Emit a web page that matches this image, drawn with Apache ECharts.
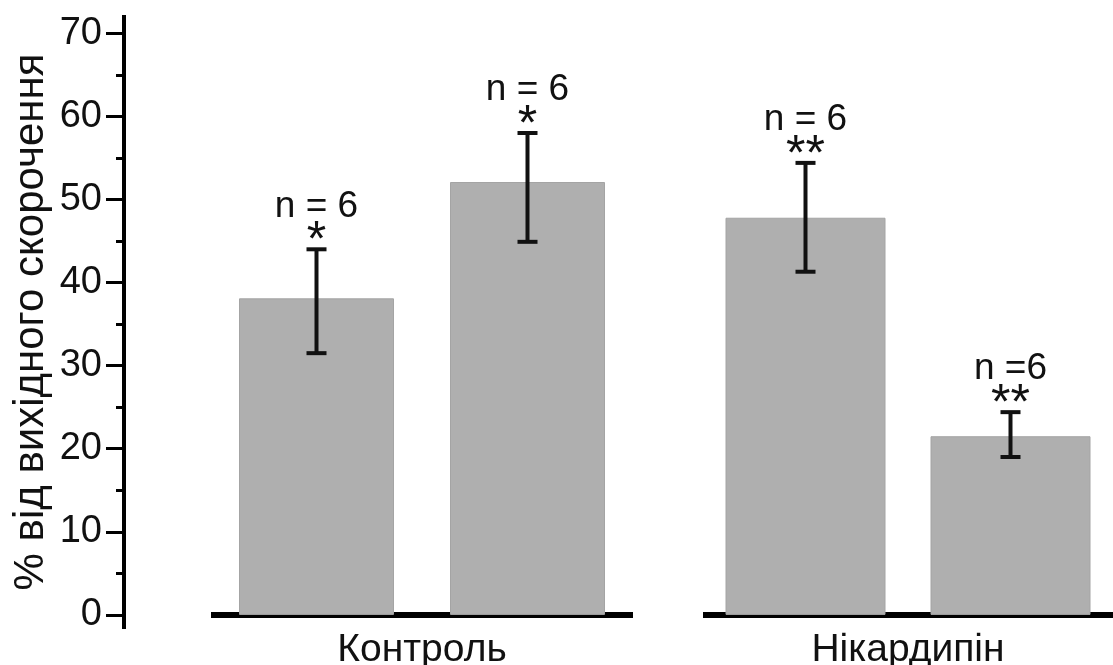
<!DOCTYPE html>
<html>
<head>
<meta charset="utf-8">
<script src="https://cdn.jsdelivr.net/npm/echarts@6/dist/echarts.min.js"></script>
<style>
html,body{margin:0;padding:0;background:#fff;}
#c{width:1113px;height:665px;}
</style>
</head>
<body>
<div id="c"></div>
<script>
// ---- data ----
const groupNames = ['Контроль', 'Нікардипін'];
const barCats = [['1', '2'], ['1', '2']];
const barValues = [[38.1, 52.1], [47.8, 21.5]];
const errLow = [[31.5, 44.9], [41.3, 19.0]];
const errHigh = [[44.0, 58.0], [54.4, 24.4]];
const nLabels = [['n = 6', 'n = 6'], ['n = 6', 'n =6']];
const sigLabels = [['*', '*'], ['**', '**']];
const yAxisName = '% від вихідного скорочення';
const yMajorTicks = [0, 10, 20, 30, 40, 50, 60, 70];
const yMinorTicks = [5, 15, 25, 35, 45, 55, 65];
const yMin = -1.7, yMax = 72.2;

// ---- chart ----
const FONT = 'Liberation Sans, Arial, sans-serif';
const chart = echarts.init(document.getElementById('c'));

function makeErrRender(g) {
  return function (params, api) {
    const x = api.value(0);
    const lo = api.coord([x, api.value(1)]);
    const hi = api.coord([x, api.value(2)]);
    const cap = 10;
    const i = params.dataIndex;
    const st = { stroke: '#111', lineWidth: 4 };
    return {
      type: 'group',
      children: [
        { type: 'line', shape: { x1: lo[0], y1: lo[1], x2: hi[0], y2: hi[1] }, style: st },
        { type: 'line', shape: { x1: lo[0] - cap, y1: lo[1], x2: lo[0] + cap, y2: lo[1] }, style: st },
        { type: 'line', shape: { x1: hi[0] - cap, y1: hi[1], x2: hi[0] + cap, y2: hi[1] }, style: st },
        { type: 'text', x: hi[0], y: hi[1] - 7,
          style: { text: sigLabels[g][i], fill: '#111', font: '50px ' + FONT, align: 'center', verticalAlign: 'middle' } },
        { type: 'text', x: hi[0], y: hi[1] - 43,
          style: { text: nLabels[g][i], fill: '#111', font: '37px ' + FONT, align: 'center', verticalAlign: 'middle' } }
      ]
    };
  };
}

const grids = [
  { left: 124, width: 1, top: 15, bottom: 36, outerBoundsMode: 'none', containLabel: false },
  { left: 211, width: 422, top: 15, bottom: 36, outerBoundsMode: 'none', containLabel: false },
  { left: 703, right: 0, top: 15, bottom: 36, outerBoundsMode: 'none', containLabel: false }
];

function groupXAxis(g) {
  return {
    gridIndex: g + 1, type: 'category', data: barCats[g], name: groupNames[g],
    nameLocation: 'middle', nameGap: 2,
    nameTextStyle: { fontFamily: FONT, fontSize: 39, color: '#111' },
    axisLine: { show: true, onZero: true, lineStyle: { color: '#000', width: 6, cap: 'butt' } },
    axisTick: { show: false }, axisLabel: { show: false }
  };
}

const xAxes = [
  { gridIndex: 0, type: 'category', data: ['a'], show: false },
  groupXAxis(0),
  groupXAxis(1)
];

const yAxes = [
  { gridIndex: 0, type: 'value', min: yMin, max: yMax, position: 'left',
    name: yAxisName, nameLocation: 'middle', nameGap: 72,
    nameTextStyle: { fontFamily: FONT, fontSize: 42, color: '#111' },
    axisLine: { show: true, lineStyle: { color: '#000', width: 4, cap: 'butt' } },
    axisTick: { show: true, customValues: yMajorTicks, length: 18, lineStyle: { color: '#000', width: 3 } },
    axisLabel: { show: true, customValues: yMajorTicks, margin: 22, fontFamily: FONT, fontSize: 38, color: '#111' },
    splitLine: { show: false } },
  { gridIndex: 0, type: 'value', min: yMin, max: yMax, position: 'left',
    axisLine: { show: false },
    axisTick: { show: true, customValues: yMinorTicks, length: 8, lineStyle: { color: '#000', width: 3 } },
    axisLabel: { show: false }, splitLine: { show: false } },
  { gridIndex: 1, type: 'value', min: yMin, max: yMax, show: false, splitLine: { show: false } },
  { gridIndex: 2, type: 'value', min: yMin, max: yMax, show: false, splitLine: { show: false } }
];

const series = [];
[0, 1].forEach(function (g) {
  series.push({
    type: 'bar', xAxisIndex: g + 1, yAxisIndex: g + 2,
    barWidth: g === 0 ? 155 : 160,
    itemStyle: { color: '#afafaf', borderColor: '#a4a4a4', borderWidth: 1 },
    data: barValues[g],
    z: 1, silent: true
  });
  series.push({
    type: 'custom', xAxisIndex: g + 1, yAxisIndex: g + 2,
    renderItem: makeErrRender(g),
    data: barValues[g].map(function (v, i) { return [i, errLow[g][i], errHigh[g][i]]; }),
    z: 5, silent: true
  });
});

chart.setOption({
  animation: false,
  backgroundColor: '#fff',
  grid: grids,
  xAxis: xAxes,
  yAxis: yAxes,
  series: series
});
</script>
</body>
</html>
